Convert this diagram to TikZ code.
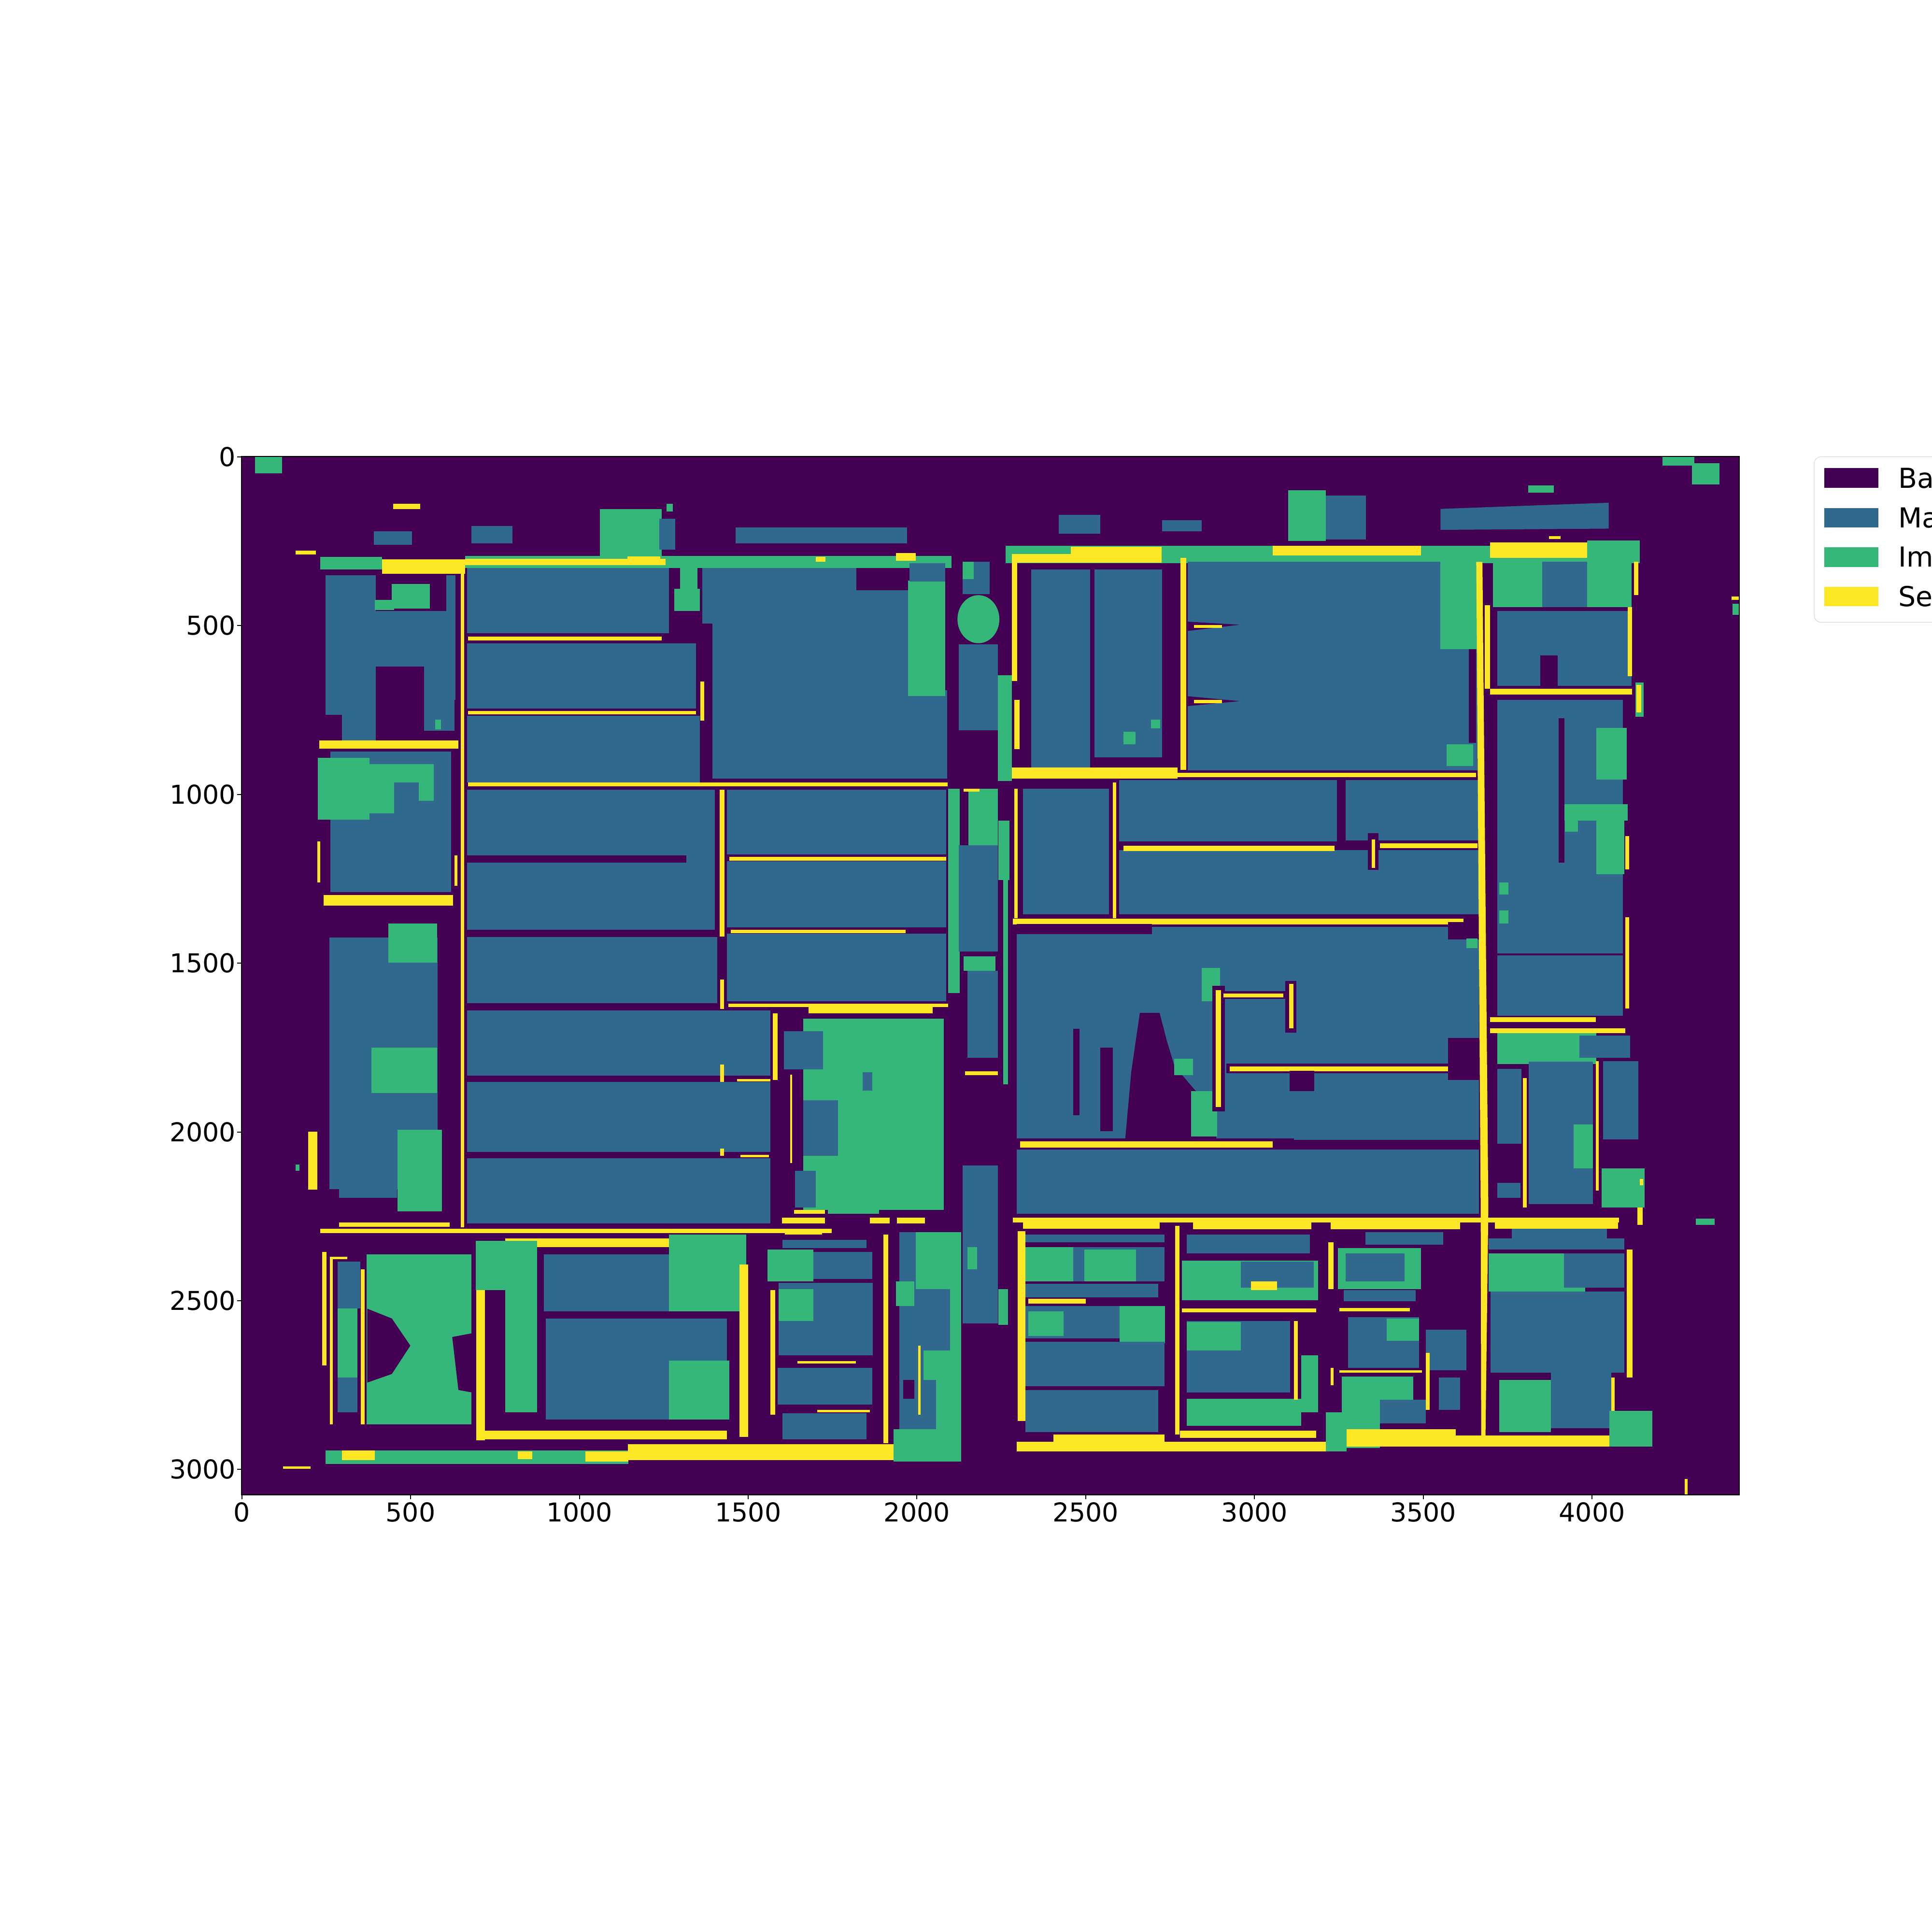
\documentclass[tikz,border=0pt]{standalone}
\usepackage{fontspec}
\setmainfont{DejaVu Sans}
\definecolor{cBG}{HTML}{440154}
\definecolor{cMA}{HTML}{31688E}
\definecolor{cIM}{HTML}{35B779}
\definecolor{cSE}{HTML}{FDE725}
\definecolor{cLE}{HTML}{D6D6D6}
\tikzset{
  sBG/.style={fill=cBG},
  sMA/.style={fill=cMA},
  sIM/.style={fill=cIM},
  sSE/.style={fill=cSE},
  ticklab/.style={inner sep=0pt,font=\fontsize{15.3}{18}\selectfont},
  leglab/.style={inner sep=0pt,anchor=west,font=\fontsize{16.2}{19}\selectfont},
  frameline/.style={line width=0.58pt,draw=black},
}
\begin{document}
\begin{tikzpicture}
\useasboundingbox (0,0) rectangle (40,40);
\clip (0,0) rectangle (40,40);
\fill[white] (0,0) rectangle (40,40);
\begin{scope}[shift={(0cm,40cm)},x=0.0255102cm,y=-0.0255102cm]
\begin{scope}
\clip (196.1,370.6) rectangle (1411.6,1213.2);
\fill[sBG] (196.1,370.6) rectangle (1411.6,1213.2);
% ---- top scattered
\fill[sIM] (207,370.6) rectangle (229,384);
\fill[sSE] (319,409) rectangle (341,413);
\fill[sMA] (303.5,431) rectangle (334.5,442);
\fill[sMA] (382.5,427) rectangle (416,441);
\fill[sSE] (240,447) rectangle (256.5,450);
\fill[sIM] (487,413) rectangle (537,451);
\fill[sMA] (535,421) rectangle (548,446);
\fill[sIM] (541,409) rectangle (546,415);
\fill[sMA] (597,428) rectangle (736,441);
\fill[sMA] (859,418) rectangle (893,433);
\fill[sMA] (943,422) rectangle (975,431);
\fill[sIM] (1045.5,398) rectangle (1076,439);
\fill[sMA] (1076,402) rectangle (1108.5,438);
\fill[sMA] (1169,413) -- (1250,410) -- (1305.5,408) -- (1305.5,429) -- (1169,430) -- cycle;
\fill[sIM] (1240,394) rectangle (1261,400);
\fill[sSE] (1257,435) rectangle (1266.5,437.5);
\fill[sIM] (1349,370.6) rectangle (1375,378);
\fill[sIM] (1373,376) rectangle (1395.5,393);
\fill[sSE] (1405,484) rectangle (1411.6,487);
\fill[sIM] (1406,490) rectangle (1411.6,499);
% ---- left block top band
\fill[sIM] (260,451.8) rectangle (310,462);
\fill[sSE] (310,453.8) rectangle (377.5,465.7);
\fill[sIM] (377.5,451) rectangle (772,460.8);
\fill[sSE] (377.5,453.5) rectangle (540,458.5);
\fill[sSE] (509,451.5) rectangle (536,458);
\fill[sSE] (727,449) rectangle (743,455);
\fill[sSE] (662,452) rectangle (670,456);
% ---- left column
\fill[sMA] (264,467) rectangle (369.5,568);
\fill[sBG] (305,467) rectangle (362,496);
\fill[sBG] (305,541) rectangle (344,568);
\fill[sIM] (318,474) rectangle (349,494);
\fill[sIM] (304,487) rectangle (320,495);
\fill[sMA] (277.5,568) rectangle (305,601);
\fill[sMA] (264,568) rectangle (277.5,580);
\fill[sMA] (344,568) rectangle (369,593);
\fill[sIM] (353,584) rectangle (358,592);
\fill[sSE] (259,601) rectangle (372,607.5);
\fill[sMA] (268,610) rectangle (366,724);
\fill[sIM] (258,615) rectangle (300,665);
\fill[sIM] (289,620) rectangle (352,635);
\fill[sIM] (300,635) rectangle (320,660);
\fill[sIM] (340,630) rectangle (352,650);
\fill[sSE] (262.5,726.5) rectangle (367.5,735);
\fill[sSE] (257.5,683) rectangle (260,716);
\fill[sSE] (369,694) rectangle (371,719);
\fill[sMA] (267.5,761) rectangle (355,965);
\fill[sMA] (275,965) rectangle (322,972);
\fill[sIM] (315,749.5) rectangle (354.6,781);
\fill[sIM] (301.5,850) rectangle (354.6,887);
\fill[sIM] (322.5,917) rectangle (358.5,983);
\fill[sSE] (250,918.5) rectangle (257.5,965.5);
\fill[sIM] (240,945) rectangle (243,950);
\fill[sSE] (374,458) rectangle (376.8,996);
% ---- main left block
\fill[sMA] (379,461) rectangle (543,514);
\fill[sIM] (547,478) rectangle (568,496);
\fill[sIM] (552,461) rectangle (566,478);
\fill[sMA] (379,522) rectangle (565,575);
\fill[sMA] (379,581) rectangle (568,634.8);
\fill[sMA] (570,461) rectangle (737,506);
\fill[sMA] (578,506) rectangle (737,632);
\fill[sMA] (737,560) rectangle (768.5,632);
\fill[sBG] (695,461) rectangle (737,479);
\fill[sIM] (737,471) rectangle (767,565);
\fill[sMA] (738,457) rectangle (767,472);
\fill[sSE] (380,516.7) rectangle (537,519.8);
\fill[sSE] (380,576.8) rectangle (565,579.8);
\fill[sSE] (380,635) rectangle (769,638);
\fill[sSE] (568.5,553) rectangle (571.5,585);
\fill[sMA] (379,641) rectangle (580,760);
\fill[sBG] (379,694) rectangle (557,700);
\fill[sBG] (379,754.5) rectangle (584,760.5);
\fill[sMA] (379,760.5) rectangle (582,814);
\fill[sMA] (379,820) rectangle (625,873);
\fill[sMA] (379,878) rectangle (625,935);
\fill[sMA] (379,940) rectangle (625,993);
\fill[sMA] (590,641) rectangle (768,693.5);
\fill[sMA] (590,699) rectangle (768,752.5);
\fill[sMA] (590,757.5) rectangle (768,812.5);
\fill[sSE] (584,641) rectangle (588,760);
\fill[sSE] (584.5,795) rectangle (587.5,819);
\fill[sSE] (584.5,864) rectangle (587.5,878);
\fill[sSE] (584.5,932) rectangle (587.5,938);
\fill[sSE] (592,695.4) rectangle (768,698.4);
\fill[sSE] (593,754.4) rectangle (735,757.4);
\fill[sSE] (591,814.4) rectangle (769.5,817.4);
\fill[sSE] (656,817.4) rectangle (757,822.4);
\fill[sSE] (598,875.5) rectangle (625,877.5);
\fill[sSE] (601,937) rectangle (624,939);
\fill[sIM] (652,826.5) rectangle (766,982);
\fill[sMA] (636,837) rectangle (668,868);
\fill[sMA] (652,893) rectangle (680,938);
\fill[sMA] (645,950) rectangle (662,980);
\fill[sMA] (700,870) rectangle (708,885);
\fill[sSE] (627,822.5) rectangle (631,876.5);
\fill[sSE] (641.3,872) rectangle (643,944);
% bottom of left block
\fill[sSE] (260,997) rectangle (675,1000.5);
\fill[sSE] (275,992) rectangle (365,995.5);
\fill[sSE] (644.5,982) rectangle (669.5,985);
\fill[sIM] (672,980) rectangle (713.5,985);
\fill[sSE] (634.6,988) rectangle (669.5,993);
\fill[sSE] (706,988) rectangle (722,993);
\fill[sSE] (728,988) rectangle (750.7,993);
\fill[sSE] (637,999) rectangle (667,1002);
% ---- bottom-left region
\fill[sSE] (410,1005) rectangle (580,1012);
\fill[sIM] (386,1007) rectangle (410,1047);
\fill[sIM] (297.5,1018) rectangle (382.6,1156);
\fill[sBG] (298,1062) -- (318,1070) -- (333,1092) -- (318,1115) -- (298,1122) -- cycle;
\fill[sBG] (367,1085) -- (383,1082) -- (383,1130) -- (372,1128) -- cycle;
\fill[sSE] (386.5,1047) rectangle (393.5,1169);
\fill[sSE] (387.6,1161) rectangle (590,1168);
\fill[sIM] (410,1007) rectangle (436,1146);
\fill[sMA] (441.4,1018) rectangle (543,1064);
\fill[sIM] (543,1002) rectangle (605.7,1064);
\fill[sMA] (443,1070) rectangle (590,1152);
\fill[sIM] (543,1104) rectangle (592,1152);
\fill[sSE] (600,1026) rectangle (607,1166);
\fill[sSE] (261.3,1016) rectangle (265,1108);
\fill[sSE] (267.6,1020) rectangle (270,1156);
\fill[sSE] (267.6,1020) rectangle (282,1022);
\fill[sMA] (274,1024) rectangle (292.5,1062);
\fill[sIM] (274,1062) rectangle (290,1118);
\fill[sMA] (274,1118) rectangle (290,1146);
\fill[sSE] (292.6,1030) rectangle (296,1156);
\fill[sIM] (264,1177) rectangle (510,1188);
\fill[sSE] (277.6,1177) rectangle (304,1185);
\fill[sSE] (475,1178) rectangle (510,1186);
\fill[sSE] (420,1178) rectangle (432,1184);
\fill[sSE] (509.6,1172) rectangle (725,1185);
\fill[sIM] (725,1160) rectangle (780,1186);
\fill[sSE] (229.6,1190) rectangle (252,1192);
% ---- middle bottom
\fill[sMA] (635,1006) rectangle (703,1013);
\fill[sMA] (653.5,1016) rectangle (708,1038);
\fill[sIM] (623,1014) rectangle (660,1040);
\fill[sMA] (632,1041) rectangle (708.4,1100);
\fill[sIM] (632,1046) rectangle (660,1072);
\fill[sSE] (647,1104.5) rectangle (694.6,1106.5);
\fill[sMA] (631,1110) rectangle (708,1140);
\fill[sSE] (663,1144) rectangle (706,1146);
\fill[sMA] (635,1147) rectangle (703,1168);
\fill[sSE] (625,1047) rectangle (629,1148);
\fill[sSE] (717,1002) rectangle (721,1171);
\fill[sMA] (730,1000) rectangle (780,1160);
\fill[sIM] (743,1000) rectangle (780,1046);
\fill[sIM] (727,1040) rectangle (742,1060);
\fill[sIM] (771,1046) rectangle (780,1096);
\fill[sIM] (749.6,1096) rectangle (780,1120);
\fill[sIM] (759.7,1120) rectangle (780,1160);
\fill[sBG] (733,1120) rectangle (742,1135);
\fill[sSE] (745,1092) rectangle (747,1148);
\fill[sMA] (781,946) rectangle (809.6,1074);
\fill[sIM] (785,1012) rectangle (793,1030);
\fill[sIM] (810,1046) rectangle (818,1075);
% ---- central column
\fill[sMA] (781,456) rectangle (803,482);
\fill[sIM] (781,456) rectangle (790,470);
\fill[sIM] (794,502.5) ellipse (17 and 19.5);
\fill[sMA] (778,523) rectangle (809.6,592.7);
\fill[sIM] (809.6,548) rectangle (821,634);
\fill[sIM] (786,640) rectangle (809.6,686);
\fill[sSE] (782,640) rectangle (795,642.5);
\fill[sIM] (769.6,640) rectangle (779,806);
\fill[sMA] (778,686) rectangle (809.6,772);
\fill[sIM] (782,776) rectangle (808,788);
\fill[sMA] (785,788) rectangle (809.6,858.6);
\fill[sIM] (810,666) rectangle (819,714);
\fill[sIM] (814,714) rectangle (818,880);
\fill[sSE] (783,869.5) rectangle (809.6,872.4);
% ---- right block top band
\fill[sIM] (816,443) rectangle (1330.6,457);
\fill[sIM] (1305,438.7) rectangle (1330.6,443);
\fill[sSE] (821,449.7) rectangle (869.5,456.7);
\fill[sSE] (869,443.8) rectangle (942.8,456.7);
\fill[sSE] (1033,442.8) rectangle (1153,450.8);
\fill[sSE] (1209,440) rectangle (1305.5,452.8);
% column A
\fill[sSE] (821,456.7) rectangle (825.5,552.7);
\fill[sSE] (823,567.8) rectangle (827.5,607.8);
\fill[sMA] (837,462) rectangle (884.6,622.8);
\fill[sMA] (888,462) rectangle (943,614.7);
\fill[sIM] (911.6,594) rectangle (921.6,604);
\fill[sIM] (934,584) rectangle (941.6,591);
% column B
\fill[sSE] (958,452.8) rectangle (962.5,624.8);
\fill[sMA] (964,456) rectangle (1199,625);
\fill[sBG] (964,504.5) -- (1006,507) -- (964,512) -- cycle;
\fill[sBG] (964,565) -- (1006,569) -- (964,573) -- cycle;
\fill[sSE] (969,507.2) rectangle (991.5,509.4);
\fill[sSE] (969,567.8) rectangle (991.5,570.8);
\fill[sIM] (1169,456) rectangle (1199,527);
\fill[sBG] (1192,527) rectangle (1198,603);
\fill[sIM] (1174,604) rectangle (1195.5,621.7);
% column C
\fill[sMA] (1215,456) rectangle (1324,556.6);
\fill[sIM] (1211.7,455.8) rectangle (1251.6,492.8);
\fill[sIM] (1288,438.7) rectangle (1324,492.8);
\fill[sBG] (1215,492.8) rectangle (1324,496);
\fill[sBG] (1250,532) rectangle (1264,556.6);
\fill[sSE] (1205,491) rectangle (1209,558.8);
\fill[sSE] (1209,558.8) rectangle (1324.6,563.7);
\fill[sSE] (1250,567.8) rectangle (1268.5,570.8);
\fill[sSE] (1321,492.8) rectangle (1324.6,548.8);
\fill[sSE] (1326,455.8) rectangle (1329.7,482.8);
\fill[sIM] (1327,553.8) rectangle (1334,581.8);
\fill[sSE] (1328,556) rectangle (1332,578);
\fill[sMA] (1215,567.8) rectangle (1317,824.4);
\fill[sBG] (1265,582.8) rectangle (1269.5,700);
\fill[sIM] (1295.6,590.8) rectangle (1320,632.7);
\fill[sIM] (1269.5,652.7) rectangle (1321,666);
\fill[sIM] (1295.6,666) rectangle (1318,709.5);
\fill[sIM] (1270,666) rectangle (1280.7,675);
\fill[sIM] (1216.6,716) rectangle (1224,726);
\fill[sIM] (1216.6,739) rectangle (1224,749.5);
\fill[sBG] (1215,773.6) rectangle (1317,775.2);
\fill[sSE] (1319,678.4) rectangle (1322,705.4);
\fill[sSE] (1319,744.4) rectangle (1322,818.5);
\fill[sSE] (1209,825.4) rectangle (1295,829.5);
\fill[sSE] (1209,834.4) rectangle (1319,838.4);
\fill[sIM] (1215,838.4) rectangle (1295.6,863.4);
\fill[sMA] (1281.7,840.5) rectangle (1323,858.5);
\fill[sMA] (1215,867.4) rectangle (1234.6,928.3);
\fill[sMA] (1215,960) rectangle (1234,972);
\fill[sMA] (1240.6,861.4) rectangle (1292.8,977);
\fill[sMA] (1301,861) rectangle (1329.7,924.5);
\fill[sIM] (1277,912.4) rectangle (1292.8,948.3);
\fill[sSE] (1236,875) rectangle (1239,980);
\fill[sSE] (1295,861) rectangle (1297.5,966);
\fill[sIM] (1299.7,948.3) rectangle (1334.6,980);
\fill[sSE] (1330.7,956.6) rectangle (1333.5,962);
% ---- right block middle
\fill[sSE] (821,622.9) rectangle (955.5,631.8);
\fill[sSE] (951.6,627) rectangle (1198,630.5);
\fill[sMA] (830,640) rectangle (900,742);
\fill[sSE] (823,640) rectangle (826,745);
\fill[sSE] (903,635) rectangle (906,745);
\fill[sMA] (908,633) rectangle (1085,683);
\fill[sMA] (1092,633) rectangle (1200,682);
\fill[sMA] (908,690) rectangle (1200,742);
\fill[sSE] (911.6,686.4) rectangle (1083,690.5);
\fill[sBG] (1110,676) rectangle (1118.5,706);
\fill[sSE] (1113,681.3) rectangle (1116,704.4);
\fill[sSE] (1120,684.4) rectangle (1199,688.3);
\fill[sSE] (822,745.4) rectangle (1187.8,750.3);
\fill[sMA] (825,752) rectangle (1200,925);
\fill[sBG] (825,750) rectangle (935,758);
\fill[sBG] (925,822) -- (941,822) -- (947,845) -- (953,865) -- (970,885) -- (987,895) -- (987,926) -- (913,926) -- (918,870) -- cycle;
\fill[sIM] (953,859) rectangle (968,872.4);
\fill[sIM] (966.7,885.4) rectangle (987.8,922.4);
\fill[sIM] (975.3,785.4) rectangle (990,812.4);
\fill[sBG] (984,800) rectangle (994,902);
\fill[sSE] (986.7,803.4) rectangle (991,898.5);
\fill[sBG] (991,804.5) rectangle (1045,810.5);
\fill[sSE] (993,806.4) rectangle (1041.6,809.6);
\fill[sBG] (1043,796) rectangle (1052,838);
\fill[sSE] (1046,798.4) rectangle (1049.6,834.4);
\fill[sBG] (995,863) rectangle (1200,871);
\fill[sSE] (997.8,865.4) rectangle (1200,869.5);
\fill[sBG] (1046.7,869) rectangle (1066.7,885.4);
\fill[sBG] (1175,842.4) rectangle (1201,876.4);
\fill[sBG] (1175,748.4) rectangle (1201,762.4);
\fill[sIM] (1190,761.5) rectangle (1199,769.6);
\fill[sBG] (871,835) rectangle (876,905);
\fill[sBG] (893,850) rectangle (903,918);
\fill[sBG] (825,924) rectangle (1050,933);
\fill[sSE] (828,926.3) rectangle (1033,931.4);
\fill[sMA] (825,933) rectangle (1200,985);
\fill[sSE] (1198,456) -- (1203,456) -- (1207.8,980) -- (1205.5,1165) -- (1202,1165) -- (1201.6,980) -- cycle;
% ---- right block bottom band
\fill[sSE] (822,988) rectangle (1314,992);
\fill[sSE] (830,992) rectangle (941,997);
\fill[sSE] (968,992) rectangle (1064,997.5);
\fill[sSE] (1080,992) rectangle (1185,997.5);
\fill[sSE] (1213,992) rectangle (1313,997);
\fill[sSE] (1328.6,980) rectangle (1333,994);
% col1
\fill[sSE] (826,999) rectangle (832,1153);
\fill[sMA] (832,1002) rectangle (945,1008);
\fill[sMA] (832,1012) rectangle (945,1040);
\fill[sIM] (832,1012) rectangle (871,1040);
\fill[sIM] (880,1014) rectangle (922,1040);
\fill[sMA] (832,1042) rectangle (940,1053);
\fill[sSE] (834.6,1054) rectangle (881,1058);
\fill[sMA] (832,1060) rectangle (945,1086);
\fill[sIM] (834.6,1064) rectangle (863,1084);
\fill[sIM] (908.6,1060) rectangle (945.3,1090);
\fill[sMA] (832,1089) rectangle (945,1125);
\fill[sMA] (832,1128) rectangle (940,1162);
\fill[sSE] (855,1164) rectangle (945,1170);
% col2
\fill[sSE] (953.5,995) rectangle (957,1164);
\fill[sMA] (963,1002) rectangle (1063,1017);
\fill[sIM] (959,1023) rectangle (1069.6,1055);
\fill[sMA] (1007,1024) rectangle (1066,1045);
\fill[sSE] (1015,1040) rectangle (1036.5,1047);
\fill[sSE] (959,1062) rectangle (1068,1065);
\fill[sMA] (963,1072) rectangle (1047,1130);
\fill[sIM] (963,1073) rectangle (1007,1096);
\fill[sIM] (963,1135) rectangle (1056,1157);
\fill[sSE] (957.7,1161) rectangle (1068,1167);
\fill[sSE] (1050,1072) rectangle (1053,1136);
\fill[sIM] (1056,1100) rectangle (1069.6,1146);
% col3
\fill[sSE] (1078,1008) rectangle (1082,1046);
\fill[sSE] (1080,1110) rectangle (1082,1124);
\fill[sMA] (1108,1000) rectangle (1171,1010);
\fill[sIM] (1085.6,1013) rectangle (1153,1046);
\fill[sMA] (1092,1017) rectangle (1140,1040);
\fill[sMA] (1090.6,1047) rectangle (1149,1056);
\fill[sSE] (1087,1061.6) rectangle (1144,1064);
\fill[sMA] (1094,1069) rectangle (1151.7,1110);
\fill[sIM] (1125.5,1070) rectangle (1151.7,1088);
\fill[sMA] (1157,1079) rectangle (1190,1112);
\fill[sSE] (1087,1112) rectangle (1154,1114);
\fill[sIM] (1089,1117) rectangle (1147,1146);
\fill[sMA] (1120,1136) rectangle (1157,1155);
\fill[sIM] (1078,1146) rectangle (1120,1175);
\fill[sSE] (1157,1098) rectangle (1160,1144);
\fill[sMA] (1167.6,1118) rectangle (1185,1144);
\fill[sSE] (1092,1160) rectangle (1181.5,1165);
% col4
\fill[sMA] (1227,997) rectangle (1304,1014);
\fill[sMA] (1208,1005) rectangle (1318,1014);
\fill[sIM] (1208,1017) rectangle (1286.5,1048);
\fill[sMA] (1269,1017) rectangle (1318,1045);
\fill[sMA] (1209.6,1048) rectangle (1318,1114);
\fill[sIM] (1216.6,1120) rectangle (1258.6,1162);
\fill[sMA] (1258.6,1114) rectangle (1307.6,1159);
\fill[sSE] (1307.6,1118) rectangle (1310.5,1146);
\fill[sSE] (1320,1014) rectangle (1325,1118);
% bottom band right block
\fill[sSE] (825,1170) rectangle (1076,1178);
\fill[sSE] (1092.6,1165) rectangle (1312,1174);
\fill[sIM] (1076,1146) rectangle (1092.6,1178);
\fill[sIM] (1306,1145) rectangle (1341,1174);
\fill[sIM] (1376,989) rectangle (1391.6,994);
\fill[sSE] (1367,1200) rectangle (1369.6,1213.2);
\end{scope}
% ---- axes frame and ticks
\draw[frameline] (196.1,370.6) rectangle (1411.6,1213.2);
\foreach \v in {0,500,...,4000} {
  \coordinate (xt\v) at ({196.1+0.27393*(\v+0.5)},1213.2);
  \draw[frameline] (xt\v) -- ++(0,3.5) coordinate (xe\v);
  \node[ticklab,anchor=north] (xl\v) at ({196.1+0.27393*(\v+0.5)},1219) {\v};
}
\foreach \v in {0,500,...,3000} {
  \coordinate (yt\v) at (196.1,{370.6+0.27393*(\v+0.5)});
  \draw[frameline] (yt\v) -- ++(-3.5,0) coordinate (ye\v);
  \node[ticklab,anchor=east] (yl\v) at (191.6,{370.6+0.27393*(\v+0.5)}) {\v};
}
% ---- legend
\filldraw[fill=white,draw=cLE,line width=0.3pt,rounded corners=4] (1472.2,370.7) rectangle (1600,505);
\fill[sBG] (1480.5,380) rectangle (1524.5,396);
\fill[sMA] (1480.5,412.3) rectangle (1524.5,428.2);
\fill[sIM] (1480.5,444) rectangle (1524.5,460);
\fill[sSE] (1480.5,476.2) rectangle (1524.5,492);
\node[leglab] (lgBa) at (1540.3,388) {Ba};
\node[leglab] (lgMa) at (1540.3,420.2) {Ma};
\node[leglab] (lgIm) at (1540.3,452) {Im};
\node[leglab] (lgSe) at (1540.3,484.1) {Se};
\end{scope}
\end{tikzpicture}
\end{document}
